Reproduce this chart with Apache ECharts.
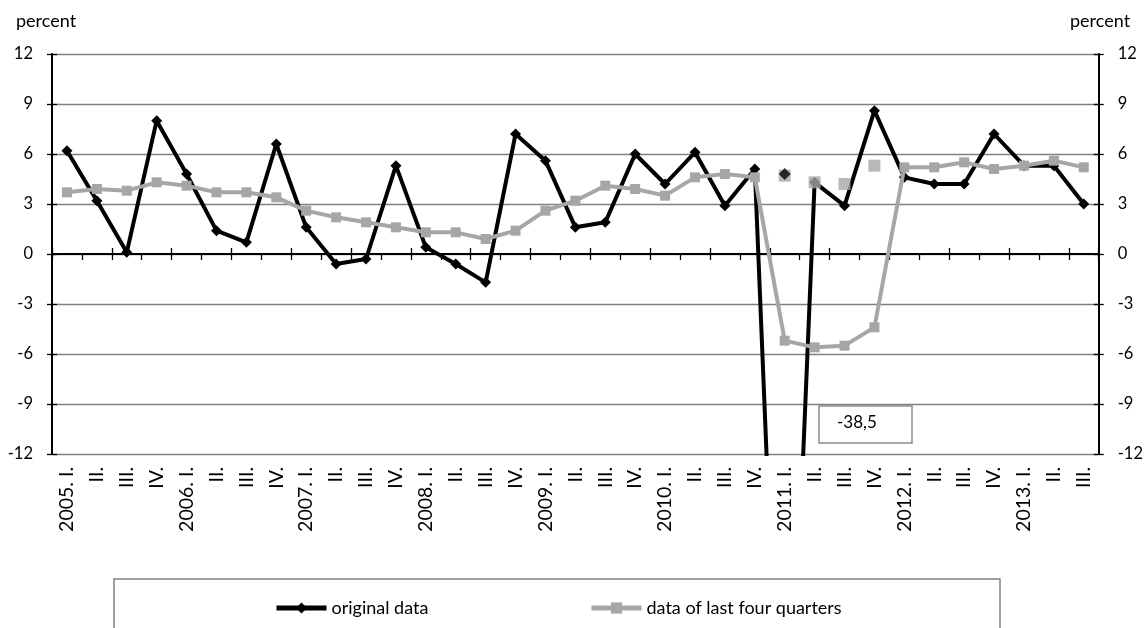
<!DOCTYPE html>
<html>
<head>
<meta charset="utf-8">
<script src="https://cdn.jsdelivr.net/npm/echarts@6/dist/echarts.min.js"></script>
<style>
  html, body { margin: 0; padding: 0; background: #fff; }
  #chart { width: 1146px; height: 628px; }
</style>
</head>
<body>
<div id="chart"></div>
<script>
// Quarter labels, 2005 Q1 .. 2013 Q3
const quarters = [
  '2005. I.', 'II.', 'III.', 'IV.',
  '2006. I.', 'II.', 'III.', 'IV.',
  '2007. I.', 'II.', 'III.', 'IV.',
  '2008. I.', 'II.', 'III.', 'IV.',
  '2009. I.', 'II.', 'III.', 'IV.',
  '2010. I.', 'II.', 'III.', 'IV.',
  '2011. I.', 'II.', 'III.', 'IV.',
  '2012. I.', 'II.', 'III.', 'IV.',
  '2013. I.', 'II.', 'III.'
];

// Quarterly change, percent
const originalData = [
  6.2, 3.2, 0.1, 8.0,
  4.8, 1.4, 0.7, 6.6,
  1.6, -0.6, -0.3, 5.3,
  0.4, -0.6, -1.7, 7.2,
  5.6, 1.6, 1.9, 6.0,
  4.2, 6.1, 2.9, 5.1,
  -38.5, 4.3, 2.9, 8.6,
  4.6, 4.2, 4.2, 7.2,
  5.3, 5.3, 3.0
];

// Average of the last four quarters, percent
const fourQuarterData = [
  3.7, 3.9, 3.8, 4.3,
  4.1, 3.7, 3.7, 3.4,
  2.6, 2.2, 1.9, 1.6,
  1.3, 1.3, 0.9, 1.4,
  2.6, 3.2, 4.1, 3.9,
  3.5, 4.6, 4.8, 4.6,
  -5.2, -5.6, -5.5, -4.4,
  5.2, 5.2, 5.5, 5.1,
  5.3, 5.6, 5.2
];

// Adjusted values for 2011, shown as stand-alone markers
const adjustedStart = 24;
const adjustedOriginal = [4.8];
const adjustedFourQuarter = [4.7, 4.3, 4.2, 5.3];

// Y scale
const yMin = -12, yMax = 12, yStep = 3;

const FONT = 'Lato, "Noto Sans", sans-serif';
const outlierIndex = originalData.findIndex(v => v < yMin);
const outlierText = String(originalData[outlierIndex]).replace('.', ',');

const chart = echarts.init(document.getElementById('chart'), null, { renderer: 'canvas' });

const yBase = {
  type: 'value', min: yMin, max: yMax, interval: yStep
};

const legendBase = {
  top: 594,
  itemWidth: 50, itemHeight: 14,
  lineStyle: { width: 5 },
  textStyle: { fontSize: 18, color: '#000', fontFamily: FONT }
};

const option = {
  backgroundColor: '#ffffff',
  animation: false,
  textStyle: { fontFamily: FONT, color: '#000' },
  grid: { left: 52, right: 43, top: 54, bottom: 174, containLabel: false },
  xAxis: [
    {
      type: 'category', data: quarters, position: 'bottom', boundaryGap: true,
      axisLine: { show: true, lineStyle: { color: '#000', width: 2 } },
      axisTick: { show: true, length: 6, lineStyle: { color: '#000', width: 1.3 } },
      axisLabel: { rotate: 90, margin: 13, fontSize: 19.5, color: '#000', fontFamily: FONT, interval: 0 },
      splitLine: { show: false }
    },
    {
      type: 'category', data: quarters, position: 'bottom', boundaryGap: true,
      axisLine: { show: false },
      axisTick: { show: true, inside: true, length: 6, lineStyle: { color: '#000', width: 1.3 } },
      axisLabel: { show: false },
      splitLine: { show: false }
    }
  ],
  yAxis: [
    Object.assign({}, yBase, {
      position: 'left',
      axisLine: { show: true, lineStyle: { color: '#000', width: 2 } },
      axisTick: { show: true, length: 5, lineStyle: { color: '#000', width: 1.3 } },
      axisLabel: { margin: 19, fontSize: 16.5, color: '#000', fontFamily: FONT },
      splitLine: { show: true, lineStyle: { color: '#808080', width: 1.3 } }
    }),
    Object.assign({}, yBase, {
      position: 'right',
      axisLine: { show: true, lineStyle: { color: '#000', width: 2 } },
      axisTick: { show: true, length: 5, lineStyle: { color: '#000', width: 1.3 } },
      axisLabel: { margin: 19, fontSize: 16.5, color: '#000', fontFamily: FONT },
      splitLine: { show: false }
    }),
    Object.assign({}, yBase, {
      position: 'left',
      axisLine: { show: false },
      axisTick: { show: true, inside: true, length: 5, lineStyle: { color: '#000', width: 1.3 } },
      axisLabel: { show: false },
      splitLine: { show: false }
    }),
    Object.assign({}, yBase, {
      position: 'right',
      axisLine: { show: false },
      axisTick: { show: true, inside: true, length: 5, lineStyle: { color: '#000', width: 1.3 } },
      axisLabel: { show: false },
      splitLine: { show: false }
    })
  ],
  legend: [
    Object.assign({}, legendBase, { left: 269, data: ['original data'] }),
    Object.assign({}, legendBase, { left: 584, data: ['data of last four quarters'] })
  ],
  graphic: [
    { type: 'text', left: 16, top: 12, style: { text: 'percent', font: '18px ' + FONT, fill: '#000' } },
    { type: 'text', left: 1070, top: 12, style: { text: 'percent', font: '18px ' + FONT, fill: '#000' } },
    {
      type: 'rect', shape: { x: 114, y: 579, width: 886, height: 70 },
      style: { fill: 'none', stroke: '#808080', lineWidth: 1.5 }, z: -1
    },
    {
      type: 'rect', shape: { x: 819, y: 406, width: 93, height: 37 },
      style: { fill: '#fff', stroke: '#8c8c8c', lineWidth: 1.5 }, z: 10
    },
    {
      type: 'text', left: 837, top: 414, z: 11,
      style: { text: outlierText, font: '17px ' + FONT, fill: '#000' }
    }
  ],
  series: [
    {
      name: 'original data', type: 'line', data: originalData,
      xAxisIndex: 0, yAxisIndex: 0, clip: true,
      symbol: 'diamond', symbolSize: 11, showAllSymbol: true,
      lineStyle: { color: '#000', width: 4 },
      itemStyle: { color: '#000' },
      z: 2
    },
    {
      name: 'data of last four quarters', type: 'line', data: fourQuarterData,
      xAxisIndex: 0, yAxisIndex: 0, clip: true,
      symbol: 'rect', symbolSize: 10, showAllSymbol: true,
      lineStyle: { color: '#a6a6a6', width: 4 },
      itemStyle: { color: '#a6a6a6' },
      z: 3
    },
    {
      name: 'adjusted four quarters', type: 'scatter',
      xAxisIndex: 0, yAxisIndex: 0,
      data: adjustedFourQuarter.map((v, i) => [adjustedStart + i, v]),
      symbol: 'rect', symbolSize: 12,
      itemStyle: { color: '#a6a6a6' },
      z: 4
    },
    {
      name: 'adjusted original', type: 'scatter',
      xAxisIndex: 0, yAxisIndex: 0,
      data: adjustedOriginal.map((v, i) => [adjustedStart + i, v]),
      symbol: 'diamond', symbolSize: 12,
      itemStyle: { color: '#000' },
      z: 5
    }
  ]
};

chart.setOption(option);
</script>
</body>
</html>
